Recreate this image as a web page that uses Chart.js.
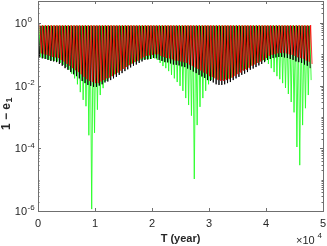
<!DOCTYPE html>
<html>
<head>
<meta charset="utf-8">
<script src="https://cdn.jsdelivr.net/npm/chart.js@4.4.1/dist/chart.umd.min.js"></script>
<style>
  html, body { margin: 0; padding: 0; background: #fff; }
  #wrap { width: 327px; height: 246px; position: relative; }
</style>
</head>
<body>
<div id="wrap"><canvas id="chart"></canvas></div>
<script>
// tick labels / axis values
const xTickValues = [0, 10000, 20000, 30000, 40000, 50000];
const xTickLabels = ['0', '1', '2', '3', '4', '5'];
const yTickExps = [0, -2, -4, -6];

// each oscillation cycle: one maximum, one minimum of 1 - e1
const cycleYears = 500;
const blackTop = 0.80, greenTop = 0.82, redTop = 0.85;
const blackPhase = 0, greenPhase = 170, redPhase = 330;

// minimum of 1 - e1 in each cycle
const blackMin = [
  0.079, 0.074, 0.071, 0.066, 0.061, 0.059, 0.056, 0.049, 0.043, 0.036,
  0.032, 0.027, 0.023, 0.020, 0.017, 0.014, 0.012, 0.0105, 0.0098, 0.0091,
  0.0091, 0.010, 0.011, 0.0126, 0.0135, 0.015, 0.017, 0.019, 0.022, 0.025,
  0.029, 0.033, 0.038, 0.043, 0.047, 0.053, 0.059, 0.066, 0.068, 0.071,
  0.076, 0.074, 0.066, 0.061, 0.056, 0.055, 0.051, 0.047, 0.046, 0.044,
  0.041, 0.039, 0.035, 0.032, 0.028, 0.025, 0.022, 0.0195, 0.0175, 0.015,
  0.014, 0.0126, 0.011, 0.0105, 0.0105, 0.011, 0.012, 0.013, 0.015, 0.017,
  0.019, 0.022, 0.024, 0.027, 0.032, 0.035, 0.039, 0.044, 0.049, 0.056,
  0.066, 0.071, 0.076, 0.079, 0.082, 0.082, 0.079, 0.076, 0.071, 0.066,
  0.059, 0.056, 0.053, 0.047, 0.043, 0.036
];
const greenMin = [
  0.080, 0.075, 0.071, 0.066, 0.064, 0.061, 0.059, 0.053, 0.046, 0.039,
  0.032, 0.024, 0.017, 0.011, 0.0062, 0.0035, 0.0022, 0.00026, 0.00000115, 0.00031,
  0.0017, 0.005, 0.0083, 0.014, 0.017, 0.020, 0.023, 0.026, 0.030, 0.034,
  0.039, 0.044, 0.050, 0.056, 0.060, 0.065, 0.068, 0.070, 0.070, 0.071,
  0.074, 0.066, 0.053, 0.042, 0.036, 0.029, 0.022, 0.017, 0.013, 0.0098,
  0.0068, 0.004, 0.0024, 0.0011, 0.0000105, 0.00055, 0.0021, 0.004, 0.0068, 0.011,
  0.015, 0.018, 0.016, 0.015, 0.015, 0.016, 0.017, 0.018, 0.021, 0.024,
  0.027, 0.031, 0.034, 0.038, 0.044, 0.048, 0.053, 0.058, 0.063, 0.060,
  0.049, 0.036, 0.027, 0.020, 0.016, 0.012, 0.0084, 0.0054, 0.003, 0.0014,
  0.00011, 0.000029, 0.00055, 0.0019, 0.005, 0.015
];
const redMin = [
  0.107, 0.100, 0.096, 0.089, 0.082, 0.080, 0.076, 0.066, 0.058, 0.049,
  0.043, 0.036, 0.031, 0.027, 0.023, 0.019, 0.016, 0.014, 0.013, 0.012,
  0.012, 0.0135, 0.015, 0.017, 0.018, 0.020, 0.023, 0.026, 0.030, 0.034,
  0.039, 0.045, 0.051, 0.058, 0.063, 0.072, 0.080, 0.089, 0.092, 0.096,
  0.100, 0.100, 0.089, 0.082, 0.076, 0.074, 0.069, 0.063, 0.062, 0.059,
  0.055, 0.053, 0.047, 0.043, 0.038, 0.034, 0.030, 0.026, 0.024, 0.020,
  0.019, 0.017, 0.015, 0.014, 0.014, 0.015, 0.016, 0.018, 0.020, 0.023,
  0.026, 0.030, 0.032, 0.036, 0.043, 0.047, 0.053, 0.059, 0.066, 0.076,
  0.089, 0.096, 0.100, 0.107, 0.110, 0.110, 0.107, 0.100, 0.096, 0.089,
  0.080, 0.076, 0.072, 0.063, 0.058, 0.049
];

// max -> min -> max ... as {x, y} points
function buildSeries(mins, top, phase) {
  const pts = [];
  mins.forEach((m, i) => {
    const t0 = i * cycleYears + phase;
    pts.push({ x: t0, y: top });
    pts.push({ x: t0 + cycleYears / 2, y: m });
  });
  return pts;
}

const FONT = '"Liberation Sans", Arial, sans-serif';
const TEXT = '#262626';
const AXIS = '#6f6f6f';

// matlab-like box, inward ticks and tick labels with exponents
const axisDecor = {
  id: 'axisDecor',
  afterDraw(chart) {
    const { ctx, chartArea: a, scales: { x, y } } = chart;
    ctx.save();
    ctx.strokeStyle = AXIS;
    ctx.lineWidth = 1;
    ctx.strokeRect(Math.round(a.left) + 0.5, Math.round(a.top) + 0.5,
      Math.round(a.right - a.left), Math.round(a.bottom - a.top));

    ctx.beginPath();
    xTickValues.forEach(v => {
      const px = Math.round(x.getPixelForValue(v)) + 0.5;
      ctx.moveTo(px, a.bottom); ctx.lineTo(px, a.bottom - 3);
      ctx.moveTo(px, a.top); ctx.lineTo(px, a.top + 3);
    });
    for (let e = -6; e <= 0; e++) {
      for (let k = 1; k <= 9; k++) {
        const v = k * Math.pow(10, e);
        if (v > y.max) break;
        const py = Math.round(y.getPixelForValue(v)) + 0.5;
        const len = (k === 1 && e % 2 === 0) ? 3 : 1.5;
        ctx.moveTo(a.left, py); ctx.lineTo(a.left + len, py);
        ctx.moveTo(a.right, py); ctx.lineTo(a.right - len, py);
      }
    }
    ctx.stroke();

    ctx.fillStyle = TEXT;
    ctx.font = '11px ' + FONT;
    ctx.textAlign = 'center';
    ctx.textBaseline = 'middle';
    xTickValues.forEach((v, i) => {
      ctx.fillText(xTickLabels[i], x.getPixelForValue(v), a.bottom + 13);
    });

    yTickExps.forEach(e => {
      const py = y.getPixelForValue(Math.pow(10, e));
      ctx.font = '11px ' + FONT;
      ctx.textAlign = 'right';
      ctx.fillText('10', 27, py + 1);
      ctx.font = '8px ' + FONT;
      ctx.textAlign = 'left';
      ctx.fillText(e === 0 ? '0' : '-' + Math.abs(e), 27.5, py - 3);
    });

    // x exponent
    ctx.font = '11px ' + FONT;
    ctx.textAlign = 'left';
    ctx.fillText('\u00d710', 296, 241);
    ctx.font = '8px ' + FONT;
    ctx.fillText('4', 317.5, 235.5);

    // axis titles
    ctx.font = 'bold 11px ' + FONT;
    ctx.textAlign = 'center';
    ctx.fillText('T (year)', (a.left + a.right) / 2, 239);

    ctx.translate(7, 108);
    ctx.rotate(-Math.PI / 2);
    ctx.font = 'bold 12px ' + FONT;
    ctx.textAlign = 'right';
    ctx.fillText('1 \u2212 e', 5, 0);
    ctx.font = 'bold 9px ' + FONT;
    ctx.textAlign = 'left';
    ctx.fillText('1', 5.5, 3);
    ctx.restore();
  }
};

// dataset 0 is drawn last (on top): red over black over green
new Chart(document.getElementById('chart'), {
  type: 'line',
  data: {
    datasets: [
      { label: 'red', data: buildSeries(redMin, redTop, redPhase), borderColor: 'rgba(255, 0, 0, 0.8)' },
      { label: 'black', data: buildSeries(blackMin, blackTop, blackPhase), borderColor: 'rgba(0, 0, 0, 0.9)' },
      { label: 'green', data: buildSeries(greenMin, greenTop, greenPhase), borderColor: 'rgba(40, 255, 40, 0.9)' }
    ]
  },
  options: {
    responsive: true,
    maintainAspectRatio: false,
    animation: false,
    events: [],
    elements: {
      line: { borderWidth: 1, tension: 0 },
      point: { radius: 0 }
    },
    layout: { padding: { top: 1, right: 4, left: 0, bottom: 0 } },
    plugins: { legend: { display: false }, tooltip: { enabled: false } },
    scales: {
      x: {
        type: 'linear', min: 0, max: 50000,
        ticks: { display: false },
        grid: { display: false },
        border: { display: false },
        afterFit: s => { s.height = 35; }
      },
      y: {
        type: 'logarithmic', min: 1e-6, max: 5,
        ticks: { display: false },
        grid: { display: false },
        border: { display: false },
        afterFit: s => { s.width = 38; }
      }
    }
  },
  plugins: [axisDecor]
});
</script>
</body>
</html>
